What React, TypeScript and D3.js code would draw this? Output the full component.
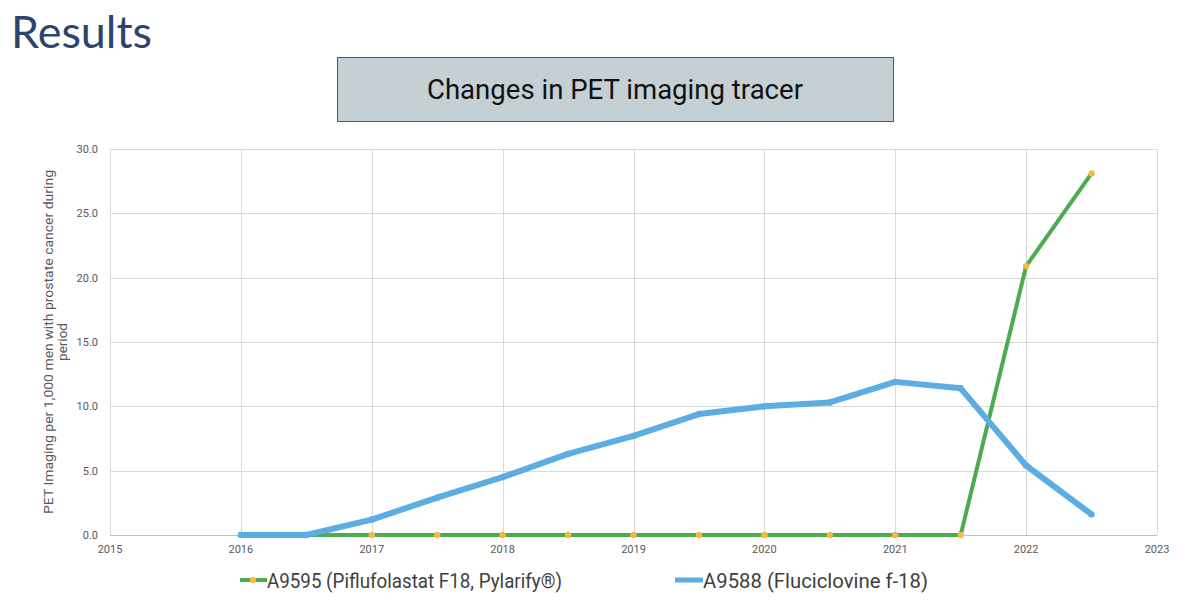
import React from "react";
import * as d3 from "d3";

const years = [2016, 2016.5, 2017, 2017.5, 2018, 2018.5, 2019, 2019.5, 2020, 2020.5, 2021, 2021.5, 2022, 2022.5];
const fluciclovine = [0, 0, 1.2, 2.9, 4.5, 6.3, 7.7, 9.4, 10.0, 10.3, 11.9, 11.4, 5.4, 1.6];
const piflufolastat = [null, 0, 0, 0, 0, 0, 0, 0, 0, 0, 0, 0, 20.9, 28.1];
const xTicks = [2015, 2016, 2017, 2018, 2019, 2020, 2021, 2022, 2023];
const yTicks = [0, 5, 10, 15, 20, 25, 30];
const seriesNames = ["A9595 (Piflufolastat F18, Pylarify®)", "A9588 (Fluciclovine f-18)"];

export default function App() {
  const W = 1200, H = 607;
  const x = d3.scaleLinear().domain([2015, 2023]).range([110, 1157]);
  const y = d3.scaleLinear().domain([0, 30]).range([535, 149]);
  const line = d3.line<[number, number]>().x(d => x(d[0])).y(d => y(d[1]));
  const blueData: [number, number][] = years.map((yr, i) => [yr, fluciclovine[i]]);
  const greenData: [number, number][] = years
    .map((yr, i) => [yr, piflufolastat[i]] as [number, number | null])
    .filter(d => d[1] !== null) as [number, number][];
  const blue = "#5dade2";
  const green = "#4caa4f";
  const orange = "#f4b942";
  const grid = "#d9d9d9";
  const txt = "#595959";
  const font = "Roboto, 'Liberation Sans', sans-serif";
  return (
    <svg width={W} height={H} style={{ position: "absolute", left: 0, top: 0, background: "#fff" }}>
      <rect x={0} y={0} width={W} height={H} fill="#fff" />
      <text x={11} y={48} fontFamily="Lato, 'Open Sans', sans-serif" fontSize={45} fill="#2c4570" textLength={141} lengthAdjust="spacingAndGlyphs">Results</text>
      <rect x={337.5} y={57.5} width={556} height={64} fill="#c5d0d5" stroke="#555" strokeWidth={1} />
      <text x={615} y={99} textAnchor="middle" fontFamily={font} fontSize={27} fill="#111" textLength={376} lengthAdjust="spacingAndGlyphs">Changes in PET imaging tracer</text>

      {yTicks.map(t => (
        <line key={"gy" + t} x1={110} x2={1157} y1={Math.round(y(t)) + 0.5} y2={Math.round(y(t)) + 0.5} stroke={grid} strokeWidth={1} />
      ))}
      {xTicks.map(t => (
        <line key={"gx" + t} x1={Math.round(x(t)) + 0.5} x2={Math.round(x(t)) + 0.5} y1={149} y2={535} stroke={grid} strokeWidth={1} />
      ))}
      <line x1={110} x2={1157} y1={535.5} y2={535.5} stroke="#bfbfbf" />

      {yTicks.map(t => (
        <text key={"ty" + t} x={98} y={y(t) + 4} textAnchor="end" fontFamily={font} fontSize={11} fill={txt}>{t.toFixed(1)}</text>
      ))}
      {xTicks.map(t => (
        <text key={"tx" + t} x={x(t)} y={553} textAnchor="middle" fontFamily={font} fontSize={11} fill={txt}>{t}</text>
      ))}

      <text transform={`translate(53,342) rotate(-90)`} textAnchor="middle" fontFamily={font} fontSize={13.5} fill={txt}>
        <tspan x={0} dy={0} textLength={344} lengthAdjust="spacingAndGlyphs">PET Imaging per 1,000 men with prostate cancer during</tspan>
        <tspan x={0} dy={14}>period</tspan>
      </text>

      <path d={line(greenData) || ""} fill="none" stroke={green} strokeWidth={4} strokeLinejoin="round" />
      {greenData.slice(1).map((d, i) => (
        <circle key={"gm" + i} cx={x(d[0])} cy={y(d[1])} r={3.2} fill={orange} />
      ))}
      <path d={line(blueData) || ""} fill="none" stroke={blue} strokeWidth={6} strokeLinejoin="round" />
      {blueData.map((d, i) => (
        <circle key={"bm" + i} cx={x(d[0])} cy={y(d[1])} r={3.2} fill={blue} />
      ))}

      <line x1={240} x2={267} y1={580} y2={580} stroke={green} strokeWidth={4} />
      <circle cx={253} cy={580} r={3.2} fill={orange} />
      <text x={267} y={588} fontFamily={font} fontSize={21} fill="#404040" textLength={295} lengthAdjust="spacingAndGlyphs">{seriesNames[0]}</text>
      <line x1={675} x2={703} y1={580} y2={580} stroke={blue} strokeWidth={5} />
      <text x={703} y={588} fontFamily={font} fontSize={21} fill="#404040" textLength={225} lengthAdjust="spacingAndGlyphs">{seriesNames[1]}</text>
    </svg>
  );
}
